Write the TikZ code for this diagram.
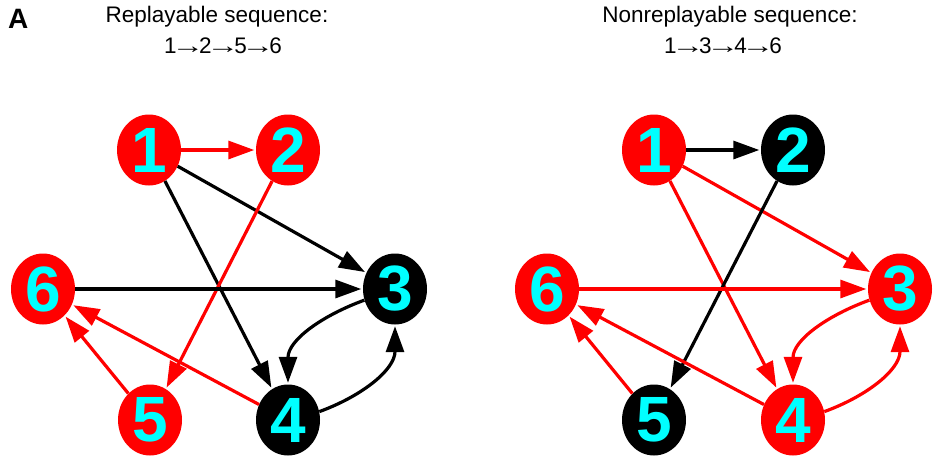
\documentclass[tikz,border=0pt]{standalone}
\usepackage{fontspec}
\usepackage{graphicx}
\setmainfont{Liberation Sans}
\usetikzlibrary{arrows.meta,shapes.geometric}
\definecolor{nred}{RGB}{255,0,0}
\definecolor{ncyan}{RGB}{0,255,255}
\newcommand{\seqarr}{\makebox[1em]{\scalebox{1.45}[1]{→}}}
\begin{document}
\begin{tikzpicture}[x=1pt,y=-1pt,
  vtx/.style={ellipse, minimum width=64pt, minimum height=71pt, inner sep=0pt,
    text=ncyan, font=\fontsize{64}{64}\selectfont\bfseries},
  rv/.style={vtx, fill=nred},
  bv/.style={vtx, fill=black},
  edge/.style={line width=3.2pt, shorten >=1.5pt, -{Triangle[length=26pt,width=18pt]}},
  re/.style={edge, draw=nred},
  be/.style={edge, draw=black},
  ttl/.style={anchor=base, font=\fontsize{22.5}{24}\selectfont, inner sep=0pt}]
\useasboundingbox (0,0) rectangle (934,461);
\node[anchor=base west, inner sep=0pt, font=\fontsize{28}{30}\selectfont\bfseries] (lblA) at (8,28) {A};
% left graph
\node[ttl] (t1) at (217,22) {Replayable sequence:};
\node[ttl] (t2) at (223,53) {1\seqarr 2\seqarr 5\seqarr 6};
\node[rv] (a1) at (149,150) {1};
\node[rv] (a2) at (288,150) {2};
\node[bv] (a3) at (395,289) {3};
\node[bv] (a4) at (288,420) {4};
\node[rv] (a5) at (150,420) {5};
\node[rv] (a6) at (43,289) {6};
\draw[re] (a1) -- (a2);
\draw[be] (a1) -- (a3);
\draw[be] (a1) -- (a4);
\draw[re] (a2) -- (a5);
\draw[be] (a6) -- (a3);
\draw[be] (a3.200) to[out=200,in=90] (a4.north);
\draw[be] (a4.15) to[out=20,in=-90] (a3.south);
\draw[re] (a4) -- (a6);
\draw[re] (a5) -- (a6);
% right graph
\node[ttl] (t3) at (730,22) {Nonreplayable sequence:};
\node[ttl] (t4) at (723,53) {1\seqarr 3\seqarr 4\seqarr 6};
\node[rv] (b1) at (654,150) {1};
\node[bv] (b2) at (793,150) {2};
\node[rv] (b3) at (900,289) {3};
\node[rv] (b4) at (793,420) {4};
\node[bv] (b5) at (654,420) {5};
\node[rv] (b6) at (547,289) {6};
\draw[be] (b1) -- (b2);
\draw[re] (b1) -- (b3);
\draw[re] (b1) -- (b4);
\draw[be] (b2) -- (b5);
\draw[re] (b6) -- (b3);
\draw[re] (b3.200) to[out=200,in=90] (b4.north);
\draw[re] (b4.15) to[out=20,in=-90] (b3.south);
\draw[re] (b4) -- (b6);
\draw[re] (b5) -- (b6);
\end{tikzpicture}
\end{document}
